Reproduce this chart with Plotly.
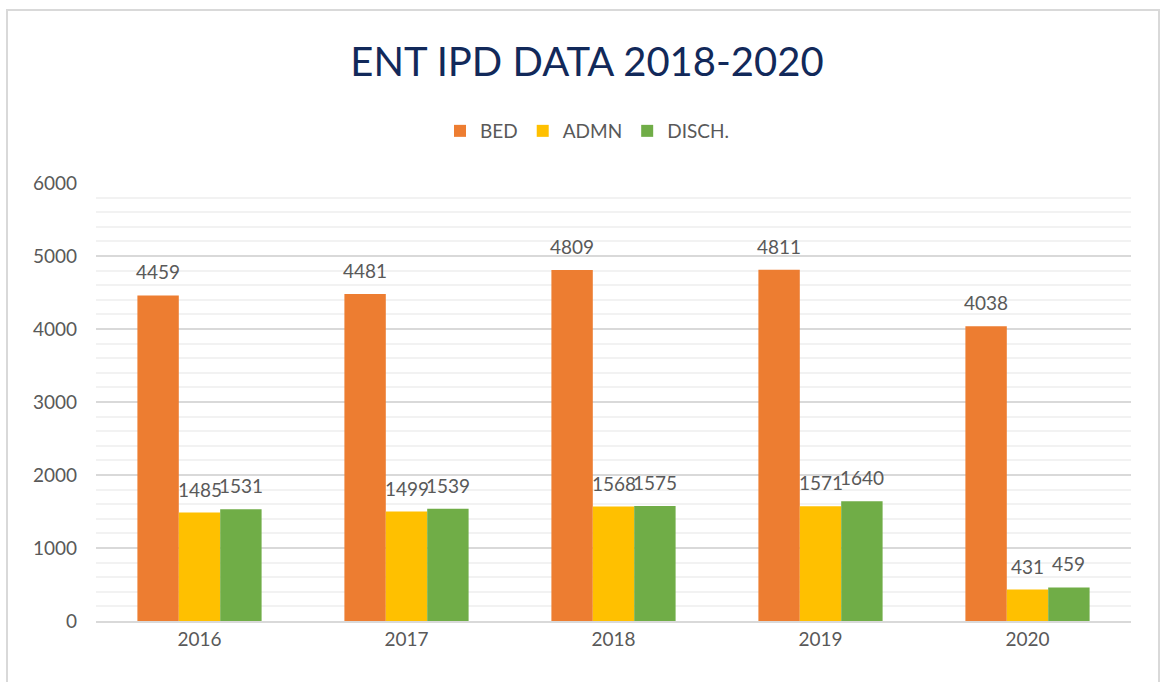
import plotly.graph_objects as go

years = ["2016", "2017", "2018", "2019", "2020"]
bed = [4459, 4481, 4809, 4811, 4038]
admn = [1485, 1499, 1568, 1571, 431]
disch = [1531, 1539, 1575, 1640, 459]

series = [("BED", bed, "#ED7D31"), ("ADMN", admn, "#FFC000"), ("DISCH.", disch, "#70AD47")]

FONT = "Lato, Carlito, Calibri, sans-serif"
GRAY = "#595959"

W, H = 1160, 682
ML, MR, MT, MB = 96, 29, 183, 61
PW, PH = W - ML - MR, H - MT - MB

fig = go.Figure()
for name, vals, color in series:
    fig.add_trace(go.Bar(name=name, x=years, y=vals, marker=dict(color=color, line=dict(width=0)),
                         cliponaxis=False))

bar_w = PW / len(years) * 0.6 / 3
annotations = []
for i, (name, vals, color) in enumerate(series):
    for j, v in enumerate(vals):
        annotations.append(dict(x=j, xref="x", y=v, yref="y", text=str(v), showarrow=False,
                                xshift=(i - 1) * bar_w, yanchor="bottom", yshift=10,
                                font=dict(family=FONT, size=19, color=GRAY)))

def px_to_paper_x(px):
    return (px - ML) / PW

def px_to_paper_y(py):
    return (H - MB - py) / PH

# outer chart border
fig.add_shape(type="rect", xref="paper", yref="paper",
              x0=px_to_paper_x(7), x1=px_to_paper_x(1159),
              y0=px_to_paper_y(700), y1=px_to_paper_y(10),
              line=dict(color="#D9D9D9", width=2), fillcolor="rgba(0,0,0,0)", layer="below")

fig.update_layout(
    width=W, height=H,
    margin=dict(l=ML, r=MR, t=MT, b=MB, autoexpand=False),
    paper_bgcolor="white", plot_bgcolor="white",
    barmode="group", bargap=0.4, bargroupgap=0,
    title=dict(text="ENT IPD DATA 2018-2020", x=587 / W, xanchor="center", y=1 - 62 / H, yanchor="middle",
               font=dict(family=FONT, size=40, color="#12295A")),
    legend=dict(orientation="h", x=px_to_paper_x(587), xanchor="center", y=px_to_paper_y(131),
                yanchor="middle", font=dict(family=FONT, size=19, color=GRAY), itemwidth=30,
                traceorder="normal"),
    xaxis=dict(type="category", range=[-0.5, 4.5], showgrid=False, showline=True, linecolor="#D9D9D9",
               linewidth=2, ticks="", tickfont=dict(family=FONT, size=19, color=GRAY)),
    yaxis=dict(range=[0, 6000], dtick=1000, showgrid=True, gridcolor="#D9D9D9", gridwidth=2,
               zeroline=False, showline=False, ticks="", ticklabelstandoff=18,
               tickfont=dict(family=FONT, size=19, color=GRAY),
               minor=dict(dtick=200, showgrid=True, gridcolor="#F2F2F2", gridwidth=2)),
    annotations=annotations,
)

fig.write_html("out.html", config={"displayModeBar": False},
               post_script="document.body.style.margin='0';")
